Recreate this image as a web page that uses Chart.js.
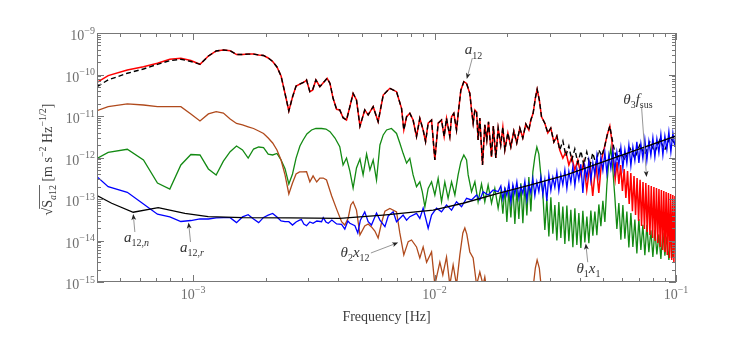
<!DOCTYPE html>
<html>
<head>
<meta charset="utf-8">
<script src="https://cdn.jsdelivr.net/npm/chart.js@4.4.1/dist/chart.umd.min.js"></script>
<style>
  html, body { margin: 0; padding: 0; background: #ffffff; }
  #wrap { width: 747px; height: 350px; position: relative; }
</style>
</head>
<body>
<div id="wrap"><canvas id="psd"></canvas></div>
<script>
// low frequency FFT bins, shared by every curve
const gridFreq = [4.0e-4, 4.45e-4, 5.34e-4, 6.23e-4, 7.12e-4, 8.01e-4, 8.9e-4, 9.79e-4, 1.068e-3, 1.157e-3,
  1.246e-3, 1.335e-3, 1.424e-3, 1.513e-3, 1.602e-3, 1.691e-3, 1.78e-3, 1.869e-3, 1.958e-3, 2.047e-3,
  2.136e-3, 2.225e-3, 2.314e-3, 2.403e-3, 2.492e-3, 2.581e-3, 2.67e-3];

const totalGrid = [5.1e-11, 7.4e-11, 1.07e-10, 1.36e-10, 1.76e-10, 2.15e-10, 2.33e-10, 2.06e-10, 1.76e-10, 2.79e-10,
  3.69e-10, 3.9e-10, 3.75e-10, 3.03e-10, 3.03e-10, 3.1e-10, 3.1e-10, 2.95e-10, 2.87e-10, 2.5e-10,
  2.06e-10, 1.52e-10, 9.2e-11, 3.49e-11, 1.32e-11, 2.87e-11, 5.29e-11];
const redGrid = [6.5e-11, 9.4e-11, 1.28e-10, 1.54e-10, 1.86e-10, 2.33e-10, 2.46e-10, 2.17e-10, 1.76e-10, 2.79e-10,
  3.69e-10, 3.9e-10, 3.75e-10, 3.03e-10, 3.03e-10, 3.1e-10, 3.1e-10, 2.95e-10, 2.87e-10, 2.5e-10,
  2.06e-10, 1.52e-10, 9.2e-11, 3.49e-11, 1.32e-11, 2.87e-11, 5.29e-11];
const brownGrid = [1.34e-11, 1.68e-11, 1.95e-11, 1.84e-11, 1.69e-11, 1.68e-11, 1.68e-11, 1.12e-11, 7.6e-12, 1.12e-11,
  1.27e-11, 1.18e-11, 8.5e-12, 6.6e-12, 6.1e-12, 5.5e-12, 5.0e-12, 4.35e-12, 3.8e-12, 2.95e-12,
  2.24e-12, 1.52e-12, 8.7e-13, 3.8e-13, 1.32e-13, 2.43e-13, 4.0e-13];
const greenGrid = [9.5e-13, 1.33e-12, 1.58e-12, 8.7e-13, 2.43e-13, 1.74e-13, 6.6e-13, 1.18e-12, 1.15e-12, 5.3e-13,
  3.8e-13, 8.2e-13, 1.38e-12, 1.89e-12, 1.52e-12, 9.7e-13, 1.6e-12, 1.79e-12, 1.74e-12, 1.21e-12,
  1.15e-12, 1.25e-12, 8.7e-13, 5.4e-13, 2.3e-13, 4.0e-13, 9.7e-13];
const blueGrid = [3.45e-13, 1.98e-13, 1.45e-13, 7.6e-14, 4.3e-14, 3.7e-14, 2.87e-14, 3.03e-14, 3.3e-14, 3.3e-14,
  3.5e-14, 3.55e-14, 3.55e-14, 2.7e-14, 3.7e-14, 4.2e-14, 3.3e-14, 2.7e-14, 3.6e-14, 4.1e-14,
  4.5e-14, 3.7e-14, 2.95e-14, 2.84e-14, 2.84e-14, 2.36e-14, 2.8e-14];

// total a12 (also followed by the red model) in the middle band
const midFreq = [2.90e-3, 2.95e-3, 3.045e-3, 3.125e-3, 3.225e-3, 3.35e-3, 3.44e-3, 3.59e-3, 3.69e-3, 3.80e-3,
  3.93e-3, 4.05e-3, 4.18e-3, 4.32e-3, 4.46e-3, 4.60e-3, 4.75e-3, 4.91e-3, 5.14e-3, 5.31e-3,
  5.57e-3, 5.84e-3, 6.13e-3, 6.53e-3, 6.96e-3, 7.30e-3, 7.46e-3, 7.66e-3, 7.90e-3, 8.15e-3,
  8.42e-3, 8.69e-3, 8.97e-3, 9.18e-3, 9.41e-3, 9.72e-3, 1.003e-2, 1.035e-2, 1.069e-2, 1.096e-2,
  1.121e-2, 1.157e-2, 1.176e-2, 1.202e-2, 1.233e-2, 1.26e-2, 1.285e-2, 1.322e-2, 1.357e-2, 1.40e-2,
  1.423e-2, 1.445e-2, 1.469e-2, 1.493e-2, 1.515e-2, 1.54e-2, 1.58e-2, 1.615e-2, 1.646e-2, 1.673e-2,
  1.722e-2, 1.752e-2, 1.794e-2, 1.834e-2, 1.88e-2, 1.918e-2, 1.955e-2, 2.012e-2, 2.07e-2, 2.13e-2,
  2.19e-2, 2.255e-2, 2.32e-2, 2.388e-2, 2.458e-2, 2.505e-2, 2.56e-2, 2.615e-2, 2.66e-2, 2.716e-2,
  2.774e-2, 2.862e-2, 2.945e-2, 3.03e-2, 3.12e-2, 3.21e-2];
const midVal = [6.7e-11, 7.4e-11, 3.85e-11, 4.2e-11, 7.4e-11, 5.1e-11, 6.1e-11, 8.1e-11, 6.1e-11, 2.67e-11,
  1.45e-11, 1.4e-11, 9.1e-12, 8.0e-12, 1.68e-11, 3.5e-11, 2.43e-11, 5.7e-12, 1.4e-11, 1.06e-11,
  1.68e-11, 7.3e-12, 3.2e-11, 4.65e-11, 3.85e-11, 1.53e-11, 4.6e-12, 9.6e-12, 1.16e-11, 8.0e-12,
  3.2e-12, 8.8e-12, 4.6e-12, 2.4e-12, 6.7e-12, 8.0e-12, 8.7e-13, 6.7e-12, 8.0e-12, 3.2e-12,
  8.8e-12, 3.2e-12, 9.6e-12, 1.16e-11, 4.6e-12, 1.53e-11, 4.2e-11, 6.7e-11, 6.1e-11, 3.5e-11,
  1.4e-11, 6.7e-12, 1.4e-11, 1.25e-11, 2.64e-12, 8.9e-12, 6.6e-13, 6.1e-12, 2.64e-12, 7.2e-12,
  1.03e-12, 5.7e-12, 9.7e-13, 5.1e-12, 2.0e-12, 5.4e-12, 1.52e-12, 3.9e-12, 1.79e-12, 4.35e-12,
  2.24e-12, 5.1e-12, 2.95e-12, 6.4e-12, 4.6e-12, 8.0e-12, 1.16e-11, 2.7e-11, 4.4e-11, 2.43e-11,
  9.6e-12, 6.7e-12, 3.9e-12, 5.1e-12, 2.36e-12, 3.3e-12];

const totalHighFreq = [3.30e-2, 3.40e-2, 3.50e-2, 3.60e-2, 3.70e-2, 3.81e-2, 3.92e-2, 4.04e-2, 4.15e-2, 4.27e-2,
  4.40e-2, 4.52e-2, 4.66e-2, 4.79e-2, 4.93e-2, 5.07e-2, 5.19e-2, 5.32e-2, 5.42e-2, 5.53e-2,
  5.69e-2, 5.85e-2, 6.14e-2, 6.44e-2, 6.75e-2, 7.08e-2, 7.43e-2, 7.79e-2, 8.17e-2, 8.57e-2,
  8.99e-2, 9.43e-2, 0.1];
const totalHighVal = [1.52e-12, 2.5e-12, 1.09e-12, 1.89e-12, 8.7e-13, 1.6e-12, 7.4e-13, 1.43e-12, 6.6e-13, 1.36e-12,
  6.2e-13, 1.28e-12, 7.0e-13, 1.52e-12, 1.09e-12, 1.89e-12, 3.5e-12, 5.7e-12, 3.1e-12, 1.69e-12,
  8.7e-13, 1.52e-12, 8.7e-13, 1.69e-12, 9.7e-13, 2.0e-12, 1.15e-12, 2.36e-12, 1.36e-12, 2.64e-12,
  1.52e-12, 3.1e-12, 2.0e-12];

const redHighFreq = [3.30e-2, 3.40e-2, 3.50e-2, 3.60e-2, 3.70e-2, 3.81e-2, 3.92e-2, 4.04e-2, 4.15e-2, 4.27e-2,
  4.40e-2, 4.52e-2, 4.66e-2, 4.79e-2, 4.93e-2, 5.07e-2, 5.19e-2, 5.32e-2, 5.42e-2];
const redHighVal = [1.52e-12, 9.7e-13, 1.36e-12, 6.6e-13, 1.03e-12, 5.0e-13, 8.7e-13, 3.8e-13, 7.8e-13, 1.65e-13,
  6.6e-13, 1.18e-13, 7.4e-13, 1.4e-13, 9.7e-13, 1.89e-12, 3.5e-12, 5.7e-12, 2.64e-12];
const redTailFreq = [0.055, 0.056, 0.057, 0.058, 0.059, 0.060, 0.061, 0.062, 0.063, 0.064,
  0.065, 0.066, 0.067, 0.068, 0.069, 0.070, 0.071, 0.072, 0.073, 0.074,
  0.075, 0.076, 0.077, 0.078, 0.079, 0.080, 0.081, 0.082, 0.083, 0.084,
  0.085, 0.086, 0.087, 0.088, 0.089, 0.090, 0.091, 0.092, 0.093, 0.094,
  0.095, 0.096, 0.097, 0.098, 0.099, 0.100];
const redTailVal = [8.7e-13, 3.0e-13, 7.8e-13, 2.3e-13, 6.6e-13, 1.56e-13, 5.3e-13, 1.06e-13, 4.7e-13, 7.6e-14,
  4.2e-13, 5.1e-14, 3.6e-13, 4.1e-14, 3.2e-13, 2.95e-14, 2.9e-13, 2.24e-14, 2.57e-13, 1.89e-14,
  2.43e-13, 1.6e-14, 2.17e-13, 1.36e-14, 2.06e-13, 1.15e-14, 1.95e-13, 9.7e-15, 1.84e-13, 8.7e-15,
  1.74e-13, 7.0e-15, 1.65e-13, 5.9e-15, 1.56e-13, 5.3e-15, 1.48e-13, 4.5e-15, 1.4e-13, 3.8e-15,
  1.32e-13, 3.4e-15, 1.25e-13, 3.0e-15, 1.18e-13, 2.6e-15];

// theta2 x12 (brown)
const brownMidFreq = [2.76e-3, 2.85e-3, 2.951e-3, 3.045e-3, 3.14e-3, 3.25e-3, 3.35e-3, 3.46e-3, 3.57e-3, 3.75e-3,
  3.93e-3, 4.12e-3, 4.25e-3, 4.39e-3, 4.50e-3, 4.60e-3, 4.75e-3, 4.91e-3, 5.14e-3, 5.31e-3,
  5.48e-3, 5.66e-3, 5.84e-3, 6.03e-3, 6.23e-3, 6.53e-3, 6.96e-3, 7.18e-3, 7.46e-3, 7.78e-3,
  8.03e-3, 8.42e-3, 8.69e-3, 8.97e-3, 9.27e-3, 9.72e-3, 1.003e-2, 1.052e-2, 1.082e-2, 1.121e-2,
  1.157e-2, 1.194e-2, 1.233e-2, 1.273e-2, 1.31e-2, 1.335e-2, 1.36e-2, 1.40e-2, 1.445e-2, 1.493e-2,
  1.54e-2, 1.589e-2, 1.615e-2, 1.646e-2, 2.553e-2, 2.615e-2, 2.66e-2, 2.716e-2, 2.774e-2];
const brownMidVal = [4.5e-13, 4.5e-13, 4.55e-13, 2.6e-13, 3.6e-13, 2.57e-13, 3.2e-13, 3.2e-13, 2.87e-13, 1.18e-13,
  5.7e-14, 2.84e-14, 2.36e-14, 3.5e-14, 7.2e-14, 8.6e-14, 5.4e-14, 1.36e-14, 2.24e-14, 2.5e-14,
  2.12e-14, 1.69e-14, 1.15e-14, 2.64e-14, 5.1e-14, 5.9e-14, 4.9e-14, 1.52e-14, 4.5e-15, 9.4e-15,
  1.03e-14, 7.0e-15, 3.8e-15, 7.0e-15, 3.0e-15, 5.3e-15, 8.5e-16, 3.0e-15, 1.48e-15, 4.0e-15,
  8.5e-16, 2.57e-15, 8.5e-16, 4.5e-15, 1.52e-14, 2.0e-14, 1.43e-14, 5.3e-15, 3.8e-15, 8.5e-16,
  1.74e-15, 8.5e-16, 1.32e-15, 6.4e-16, 6.4e-16, 2.17e-15, 3.4e-15, 2.17e-15, 6.4e-16];

// theta1 x1 (green)
const greenMidFreq = [2.77e-3, 2.856e-3, 2.96e-3, 3.095e-3, 3.225e-3, 3.405e-3, 3.55e-3, 3.69e-3, 3.87e-3, 4.05e-3,
  4.18e-3, 4.32e-3, 4.46e-3, 4.60e-3, 4.75e-3, 4.91e-3, 5.06e-3, 5.23e-3, 5.40e-3, 5.57e-3,
  5.75e-3, 5.94e-3, 6.13e-3, 6.33e-3, 6.63e-3, 6.96e-3, 7.18e-3, 7.41e-3, 7.66e-3, 7.90e-3,
  8.15e-3, 8.42e-3, 8.69e-3, 8.90e-3, 9.12e-3, 9.41e-3, 9.72e-3, 1.003e-2, 1.035e-2, 1.069e-2,
  1.103e-2, 1.138e-2, 1.176e-2, 1.214e-2, 1.252e-2, 1.285e-2, 1.322e-2, 1.357e-2, 1.378e-2, 1.423e-2,
  1.469e-2, 1.515e-2, 1.565e-2, 1.615e-2, 1.667e-2, 1.722e-2, 1.777e-2, 1.834e-2];
const greenMidVal = [1.89e-12, 2.64e-12, 3.7e-12, 4.6e-12, 5.0e-12, 5.0e-12, 4.85e-12, 4.2e-12, 2.95e-12, 1.82e-12,
  6.6e-13, 9.7e-13, 4.7e-13, 1.84e-13, 5.6e-13, 9.2e-13, 3.8e-13, 1.21e-12, 5.0e-13, 8.7e-13,
  2.87e-13, 2.0e-12, 3.5e-12, 4.6e-12, 5.0e-12, 3.8e-12, 2.24e-12, 1.26e-12, 7.3e-13, 9.5e-13,
  3.8e-13, 1.98e-13, 2.6e-13, 1.48e-13, 6.5e-14, 1.8e-13, 2.6e-13, 1.25e-13, 3.15e-13, 8.6e-14,
  2.57e-13, 1.04e-13, 2.6e-13, 1.25e-13, 3.8e-13, 7.8e-13, 1.15e-12, 8.7e-13, 3.8e-13, 1.5e-13,
  2.6e-13, 8.6e-14, 2.3e-13, 8.6e-14, 2.17e-13, 7.9e-14, 1.8e-13, 6.0e-14];
const greenHighFreq = [0.01882, 0.019185, 0.019554, 0.019931, 0.020314, 0.020705, 0.021104, 0.02151, 0.021924, 0.022346,
  0.022776, 0.023215, 0.023662, 0.024117, 0.024581, 0.025055, 0.025537, 0.026029, 0.02653, 0.02704,
  0.02756, 0.02809, 0.02863, 0.02918, 0.02975, 0.03032, 0.0309, 0.0315, 0.03211, 0.03272,
  0.03335, 0.03399, 0.03465, 0.03532, 0.036, 0.03669, 0.0374, 0.03812, 0.03885, 0.0396,
  0.04036, 0.04114, 0.04193, 0.04274, 0.04356, 0.0444, 0.04526, 0.04613, 0.04702, 0.04792,
  0.04885, 0.04979, 0.05075, 0.05172, 0.05272, 0.05373, 0.05477, 0.05582, 0.0569, 0.05799,
  0.05911, 0.06025, 0.06141, 0.06259, 0.0638, 0.06503, 0.06628, 0.06755, 0.06885, 0.07018,
  0.07153, 0.07291, 0.07431, 0.07574, 0.0772, 0.07869, 0.08021, 0.08175, 0.08333, 0.08493,
  0.08657, 0.08824, 0.08994, 0.09167, 0.09343, 0.09523, 0.09707, 0.09894, 0.1];
const greenHighVal = [1.5e-13, 4.4e-14, 1.9e-13, 2.8e-14, 1.6e-13, 3.6e-14, 2.1e-13, 2.5e-14, 1.8e-13, 3.3e-14,
  2.4e-13, 2.6e-14, 2.3e-13, 4.0e-14, 3.4e-13, 5.0e-14, 4.5e-13, 1.03e-12, 1.79e-12, 1.21e-12,
  3.8e-13, 1.35e-13, 1.8e-14, 1.0e-13, 1.25e-14, 1.1e-13, 1.45e-14, 7.2e-14, 1.0e-14, 8.4e-14,
  1.15e-14, 6.6e-14, 8.2e-15, 7.0e-14, 9.6e-15, 5.5e-14, 6.9e-15, 6.0e-14, 7.8e-15, 4.6e-14,
  6.6e-15, 5.2e-14, 9.0e-15, 3.8e-14, 8.6e-15, 5.3e-14, 1.3e-14, 5.0e-14, 1.35e-14, 7.4e-14,
  2.2e-14, 9.0e-14, 2.8e-14, 2.17e-13, 8.7e-13, 1.69e-12, 5.0e-13, 1.1e-13, 1.9e-14, 8.0e-14,
  1.05e-14, 7.2e-14, 1.1e-14, 5.0e-14, 6.8e-15, 4.6e-14, 7.0e-15, 3.2e-14, 4.9e-15, 3.3e-14,
  5.9e-15, 2.4e-14, 4.4e-15, 2.4e-14, 5.2e-15, 1.75e-14, 4.0e-15, 1.8e-14, 4.6e-15, 1.4e-14,
  3.6e-15, 1.55e-14, 4.3e-15, 1.25e-14, 3.4e-15, 1.35e-14, 4.0e-15, 1.15e-14, 3.3e-15];

// a12,r residual (blue)
const blueMidFreq = [2.76e-3, 2.81e-3, 2.875e-3, 2.951e-3, 3.045e-3, 3.14e-3, 3.255e-3, 3.405e-3, 3.46e-3, 3.55e-3,
  3.63e-3, 3.755e-3, 3.93e-3, 4.12e-3, 4.25e-3, 4.375e-3, 4.46e-3, 4.68e-3, 4.81e-3, 4.93e-3,
  5.14e-3, 5.31e-3, 5.48e-3, 5.75e-3, 5.94e-3, 6.23e-3, 6.43e-3, 6.74e-3, 6.96e-3, 7.41e-3,
  7.66e-3, 7.90e-3, 8.42e-3, 8.69e-3, 8.97e-3, 9.41e-3, 9.72e-3, 1.019e-2, 1.069e-2, 1.121e-2,
  1.176e-2, 1.233e-2, 1.294e-2, 1.357e-2, 1.423e-2, 1.493e-2, 1.54e-2, 1.589e-2, 1.667e-2, 1.749e-2,
  1.834e-2];
const blueMidVal = [3.1e-14, 3.2e-14, 2.5e-14, 2.27e-14, 2.8e-14, 2.6e-14, 2.95e-14, 2.84e-14, 3.55e-14, 2.8e-14,
  2.6e-14, 3.1e-14, 2.5e-14, 2.46e-14, 1.89e-14, 2.95e-14, 2.6e-14, 2.27e-14, 1.52e-14, 3.1e-14,
  4.9e-14, 2.84e-14, 2.36e-14, 4.6e-14, 3.1e-14, 2.15e-14, 3.9e-14, 4.9e-14, 2.84e-14, 4.1e-14,
  3.1e-14, 3.75e-14, 4.5e-14, 3.4e-14, 6.0e-14, 1.97e-14, 4.1e-14, 6.0e-14, 4.9e-14, 7.2e-14,
  5.4e-14, 8.6e-14, 6.5e-14, 1.04e-13, 9.5e-14, 1.25e-13, 9.5e-14, 1.5e-13, 1.25e-13, 1.65e-13,
  1.5e-13];
const blueHighFreq = [0.01882, 0.019185, 0.019554, 0.019931, 0.020314, 0.020705, 0.021104, 0.02151, 0.021924, 0.022346,
  0.022776, 0.023215, 0.023662, 0.024117, 0.024581, 0.025055, 0.025537, 0.026029, 0.02653, 0.02704,
  0.02756, 0.02809, 0.02863, 0.02918, 0.02975, 0.03032, 0.0309, 0.0315, 0.03211, 0.03272,
  0.03335, 0.03399, 0.03465, 0.03532, 0.036, 0.03669, 0.0374, 0.03812, 0.03885, 0.0396,
  0.04036, 0.04114, 0.04193, 0.04274, 0.04356, 0.0444, 0.04526, 0.04613, 0.04702, 0.04792,
  0.04885, 0.04979, 0.05075, 0.05172, 0.05272, 0.05373, 0.05477, 0.05582, 0.0569, 0.05799,
  0.05911, 0.06025, 0.06141, 0.06259, 0.0638, 0.06503, 0.06628, 0.06755, 0.06885, 0.07018,
  0.07153, 0.07291, 0.07431, 0.07574, 0.0772, 0.07869, 0.08021, 0.08175, 0.08333, 0.08493,
  0.08657, 0.08824, 0.08994, 0.09167, 0.09343, 0.09523, 0.09707, 0.09894];
const blueHighVal = [2.06e-13, 1.0e-13, 1.8e-13, 1.2e-13, 2.4e-13, 8.5e-14, 2.2e-13, 1.3e-13, 2.6e-13, 1.05e-13,
  2.0e-13, 1.35e-13, 2.7e-13, 9.5e-14, 2.3e-13, 1.4e-13, 3.1e-13, 1.2e-13, 2.6e-13, 1.5e-13,
  3.4e-13, 1.3e-13, 2.9e-13, 9.0e-14, 3.8e-13, 1.6e-13, 3.3e-13, 1.9e-13, 4.4e-13, 1.6e-13,
  3.9e-13, 2.2e-13, 5.0e-13, 1.8e-13, 4.6e-13, 2.5e-13, 6.0e-13, 2.1e-13, 5.3e-13, 2.9e-13,
  6.9e-13, 1.4e-13, 6.2e-13, 3.3e-13, 8.2e-13, 2.8e-13, 7.4e-13, 3.9e-13, 1.1e-12, 3.7e-13,
  1.0e-12, 4.9e-13, 1.3e-12, 4.2e-13, 1.15e-12, 5.5e-13, 1.45e-12, 4.7e-13, 1.35e-12, 6.4e-13,
  1.75e-12, 5.6e-13, 1.55e-12, 7.2e-13, 2.0e-12, 6.3e-13, 1.8e-12, 8.4e-13, 2.4e-12, 7.4e-13,
  2.15e-12, 9.4e-13, 2.7e-12, 8.6e-13, 2.45e-12, 1.12e-12, 3.0e-12, 1.02e-12, 2.8e-12, 1.3e-12,
  3.6e-12, 1.15e-12, 3.3e-12, 1.55e-12, 4.2e-12, 1.35e-12, 3.9e-12, 1.8e-12];

// a12,n noise model (black solid)
const noiseFreq = [4.0e-4, 4.6e-4, 5.65e-4, 7.17e-4, 9.25e-4, 1.155e-3, 1.61e-3, 2.52e-3, 4.05e-3, 6.13e-3,
  9.87e-3, 1.313e-2, 1.834e-2, 2.48e-2, 3.52e-2, 5.85e-2, 0.1];
const noiseVal = [1.21e-13, 7.9e-14, 4.8e-14, 6.2e-14, 4.5e-14, 3.75e-14, 3.55e-14, 3.5e-14, 3.4e-14, 4.1e-14,
  5.4e-14, 7.9e-14, 1.37e-13, 2.17e-13, 3.8e-13, 1.09e-12, 3.3e-12];

// annotations: label, text anchor (left, baseline) and arrow tail/head, all in data units
const annLabels = ["a12", "theta3fsus", "a12n", "a12r", "theta2x12", "theta1x1"];
const annTextF = [1.335e-2, 6.05e-2, 5.17e-4, 8.82e-4, 4.08e-3, 3.87e-2];
const annTextV = [3.1e-10, 1.95e-11, 9.4e-15, 5.4e-15, 4.07e-15, 1.67e-15];
const annFromF = [1.434e-2, 7.2e-2, 5.74e-4, 9.76e-4, 5.45e-3, 4.31e-2];
const annFromV = [2.5e-10, 1.65e-11, 1.6e-14, 9.2e-15, 5.0e-15, 3.0e-15];
const annToF = [1.36e-2, 7.55e-2, 5.65e-4, 9.58e-4, 7.07e-3, 4.23e-2];
const annToV = [7.8e-11, 3.39e-13, 4.35e-14, 2.7e-14, 8.9e-15, 8.5e-15];

const yDecades = [-15, -14, -13, -12, -11, -10, -9];
const xDecades = [-3, -2, -1];

function zip(fs, vs) {
  return fs.map((f, i) => ({ x: f, y: vs[i] }));
}

const totalData = zip(gridFreq, totalGrid).concat(zip(midFreq, midVal), zip(totalHighFreq, totalHighVal));
const redData = zip(gridFreq, redGrid).concat(zip(midFreq, midVal), zip(redHighFreq, redHighVal), zip(redTailFreq, redTailVal));
const brownData = zip(gridFreq, brownGrid).concat(zip(brownMidFreq, brownMidVal));
const greenData = zip(gridFreq, greenGrid).concat(zip(greenMidFreq, greenMidVal), zip(greenHighFreq, greenHighVal));
const blueData = zip(gridFreq, blueGrid).concat(zip(blueMidFreq, blueMidVal), zip(blueHighFreq, blueHighVal));
const noiseData = zip(noiseFreq, noiseVal);

const SERIF = "'Liberation Serif', 'DejaVu Serif', serif";

// draws a row of text pieces: r = roman, i = italic, sr/si = subscript, pr = superscript
function rich(ctx, parts, x, y, align, size) {
  const small = Math.round(size * 0.68);
  const font = {
    r: size + "px " + SERIF, i: "italic " + size + "px " + SERIF,
    sr: small + "px " + SERIF, si: "italic " + small + "px " + SERIF, pr: small + "px " + SERIF
  };
  const shift = { r: 0, i: 0, sr: size * 0.3, si: size * 0.3, pr: -size * 0.43 };
  const widths = parts.map(p => { ctx.font = font[p[1]]; return ctx.measureText(p[0]).width; });
  const total = widths.reduce((a, b) => a + b, 0);
  let cx = align === "center" ? x - total / 2 : align === "right" ? x - total : x;
  ctx.textAlign = "left";
  ctx.textBaseline = "alphabetic";
  const xs = [];
  parts.forEach((p, i) => {
    ctx.font = font[p[1]];
    xs.push(cx);
    ctx.fillText(p[0], cx, y + shift[p[1]]);
    cx += widths[i];
  });
  xs.push(cx);
  return xs;
}

const annParts = {
  a12: [["a", "i"], ["12", "sr"]],
  theta3fsus: [["θ", "i"], ["3", "sr"], ["f", "i"], ["sus", "sr"]],
  a12n: [["a", "i"], ["12,", "sr"], ["n", "si"]],
  a12r: [["a", "i"], ["12,", "sr"], ["r", "si"]],
  theta2x12: [["θ", "i"], ["2", "sr"], ["x", "i"], ["12", "sr"]],
  theta1x1: [["θ", "i"], ["1", "sr"], ["x", "i"], ["1", "sr"]]
};

function arrow(ctx, x1, y1, x2, y2) {
  const ang = Math.atan2(y2 - y1, x2 - x1);
  const hl = 6, hw = 2.4;
  const bx = x2 - hl * Math.cos(ang), by = y2 - hl * Math.sin(ang);
  ctx.strokeStyle = "#8a8a8a";
  ctx.lineWidth = 0.9;
  ctx.beginPath();
  ctx.moveTo(x1, y1);
  ctx.lineTo(bx + 1.5 * Math.cos(ang), by + 1.5 * Math.sin(ang));
  ctx.stroke();
  ctx.fillStyle = "#222";
  ctx.beginPath();
  ctx.moveTo(x2, y2);
  ctx.lineTo(bx + hw * Math.sin(ang), by - hw * Math.cos(ang));
  ctx.lineTo(bx + 1.5 * Math.cos(ang), by + 1.5 * Math.sin(ang));
  ctx.lineTo(bx - hw * Math.sin(ang), by + hw * Math.cos(ang));
  ctx.closePath();
  ctx.fill();
}

const framePlugin = {
  id: "framePlugin",
  afterDatasetsDraw(chart) {
    const { ctx, chartArea: a } = chart;
    const xs = chart.scales.x, ys = chart.scales.y;
    ctx.save();
    ctx.strokeStyle = "#777";
    ctx.lineWidth = 1;
    ctx.strokeRect(a.left + 0.5, a.top + 0.5, a.right - a.left - 1, a.bottom - a.top - 1);
    ctx.beginPath();
    for (let e = -4; e <= -1; e++) {
      for (let m = 1; m <= 9; m++) {
        const v = m * Math.pow(10, e);
        if (v < xs.min * 0.999 || v > xs.max * 1.001) continue;
        const px = Math.round(xs.getPixelForValue(v)) + 0.5;
        const len = m === 1 ? 7 : 4;
        ctx.moveTo(px, a.bottom); ctx.lineTo(px, a.bottom - len);
        ctx.moveTo(px, a.top); ctx.lineTo(px, a.top + len);
      }
    }
    for (let e = -15; e <= -9; e++) {
      for (let m = 1; m <= 9; m++) {
        const v = m * Math.pow(10, e);
        if (v < ys.min * 0.999 || v > ys.max * 1.001) continue;
        const py = Math.round(ys.getPixelForValue(v)) + 0.5;
        const len = m === 1 ? 7 : 4;
        ctx.moveTo(a.left, py); ctx.lineTo(a.left + len, py);
        ctx.moveTo(a.right, py); ctx.lineTo(a.right - len, py);
      }
    }
    ctx.stroke();

    // tick labels
    ctx.fillStyle = "#6e6e6e";
    yDecades.forEach(e => {
      const py = ys.getPixelForValue(Math.pow(10, e));
      rich(ctx, [["10", "r"], ["−" + Math.abs(e), "pr"]], a.left - 2, py + 7, "right", 14);
    });
    xDecades.forEach(e => {
      const px = xs.getPixelForValue(Math.pow(10, e));
      rich(ctx, [["10", "r"], ["−" + Math.abs(e), "pr"]], px, a.bottom + 17, "center", 14);
    });

    // axis titles
    ctx.fillStyle = "#3c3c3c";
    rich(ctx, [["Frequency [Hz]", "r"]], (a.left + a.right) / 2, a.bottom + 39, "center", 14);
    ctx.save();
    ctx.translate(a.left - 50, (a.top + a.bottom) / 2 + 2);
    ctx.rotate(-Math.PI / 2);
    const parts = [["√", "r"], ["S", "r"], ["a", "si"], ["12", "sr"], [" [m s", "r"], ["−2", "pr"],
      [" Hz", "r"], ["−1/2", "pr"], ["]", "r"]];
    const px = rich(ctx, parts, 0, 5, "center", 14);
    ctx.strokeStyle = "#3c3c3c";
    ctx.lineWidth = 0.8;
    ctx.beginPath();
    ctx.moveTo(px[1] - 1, 5 - 12.5);
    ctx.lineTo(px[4], 5 - 12.5);
    ctx.stroke();
    ctx.restore();

    // annotations
    annLabels.forEach((key, i) => {
      arrow(ctx, xs.getPixelForValue(annFromF[i]), ys.getPixelForValue(annFromV[i]),
        xs.getPixelForValue(annToF[i]), ys.getPixelForValue(annToV[i]));
      ctx.fillStyle = "#333";
      rich(ctx, annParts[key], xs.getPixelForValue(annTextF[i]), ys.getPixelForValue(annTextV[i]), "left", 15);
    });
    ctx.restore();
  }
};

function series(data, color, width, dash) {
  return {
    data: data, showLine: true, borderColor: color, backgroundColor: color,
    borderWidth: width, borderDash: dash || [], pointRadius: 0, fill: false, clip: 0
  };
}

new Chart(document.getElementById("psd"), {
  type: "scatter",
  data: {
    datasets: [
      series(noiseData, "#000000", 1.3),
      series(blueData, "#0000ff", 1.3),
      series(totalData, "#000000", 1.4, [5, 3]),
      series(redData, "#ff0000", 1.5),
      series(brownData, "#b04a1c", 1.3),
      series(greenData, "#138a13", 1.3)
    ]
  },
  options: {
    responsive: true,
    maintainAspectRatio: false,
    animation: false,
    devicePixelRatio: 1,
    layout: { padding: { left: 97, top: 33, right: 71, bottom: 68 } },
    plugins: { legend: { display: false }, tooltip: { enabled: false } },
    elements: { line: { tension: 0 } },
    scales: {
      x: { type: "logarithmic", min: 4e-4, max: 0.1, display: false },
      y: { type: "logarithmic", min: 1e-15, max: 1e-9, display: false }
    }
  },
  plugins: [framePlugin]
});
</script>
</body>
</html>
